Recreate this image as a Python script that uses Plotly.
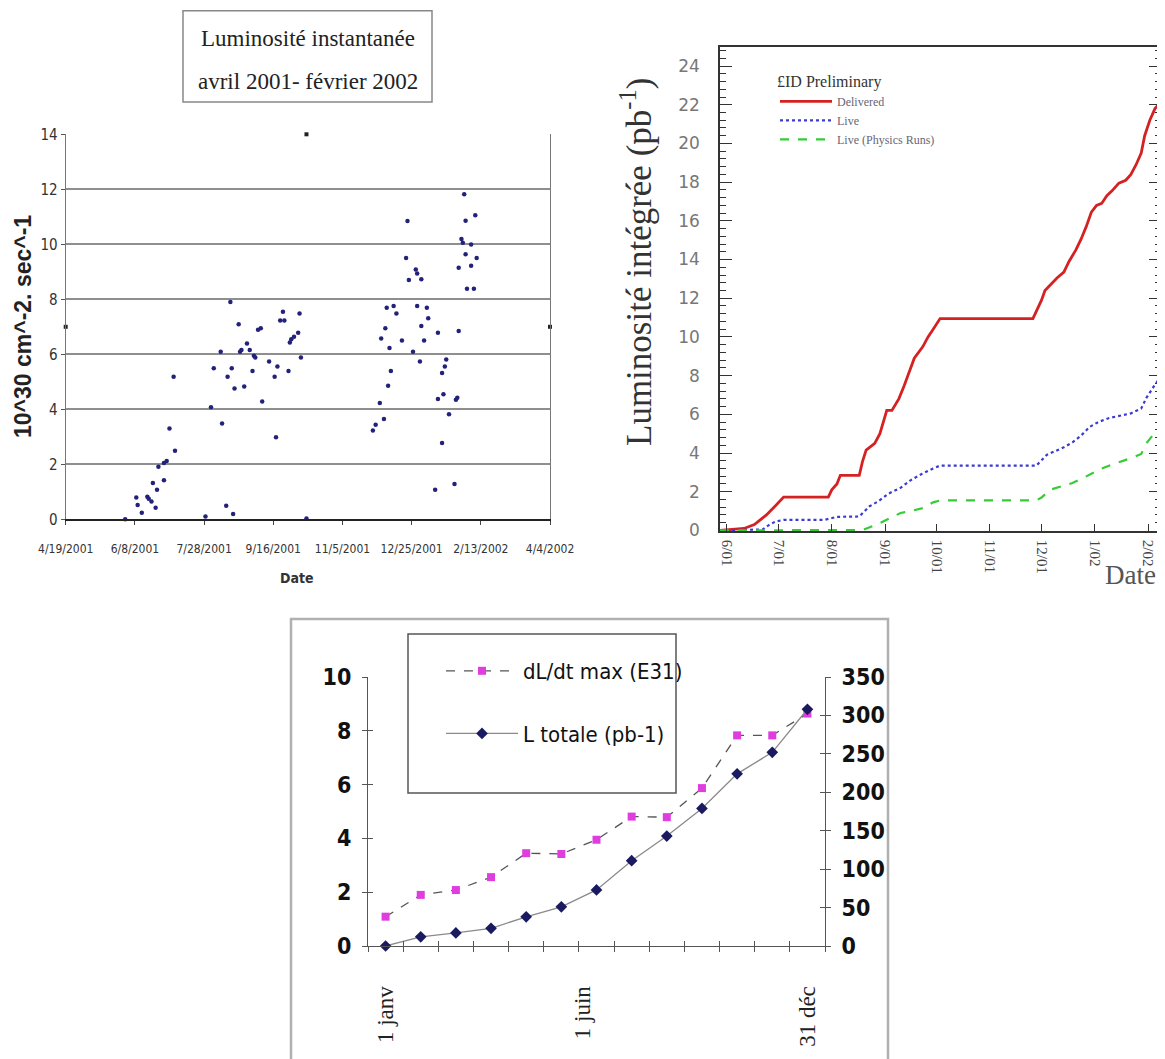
import plotly.graph_objects as go

# page body adds an 8px margin: the figure is drawn 8px in from the window corner
OFF = 8
W, H = 1165 - OFF, 1059 - OFF

# ---------------- Chart 1 data: instantaneous luminosity ----------------
inst_dates = [
    "2001-06-01", "2001-06-09", "2001-06-10", "2001-06-13", "2001-06-17", "2001-06-18",
    "2001-06-20", "2001-06-21", "2001-06-23", "2001-06-24", "2001-06-25", "2001-06-29",
    "2001-06-29", "2001-07-01", "2001-07-03", "2001-07-06", "2001-07-07",
    "2001-07-29", "2001-08-02", "2001-08-04", "2001-08-09", "2001-08-10", "2001-08-13",
    "2001-08-14", "2001-08-16", "2001-08-17", "2001-08-18", "2001-08-19", "2001-08-22",
    "2001-08-23", "2001-08-24", "2001-08-26", "2001-08-28", "2001-08-30", "2001-09-01",
    "2001-09-02", "2001-09-03", "2001-09-05", "2001-09-07", "2001-09-08", "2001-09-13",
    "2001-09-17", "2001-09-18", "2001-09-19", "2001-09-21", "2001-09-23", "2001-09-24",
    "2001-09-27", "2001-09-28", "2001-09-29", "2001-10-01", "2001-10-04", "2001-10-05",
    "2001-10-06", "2001-10-10",
    "2001-11-27", "2001-11-29", "2001-12-02", "2001-12-03", "2001-12-05", "2001-12-06",
    "2001-12-07", "2001-12-08", "2001-12-09", "2001-12-10", "2001-12-12", "2001-12-14",
    "2001-12-18", "2001-12-21", "2001-12-22", "2001-12-23", "2001-12-26", "2001-12-28",
    "2001-12-29", "2001-12-29", "2001-12-31", "2002-01-01", "2002-01-01", "2002-01-03",
    "2002-01-05", "2002-01-06", "2002-01-11", "2002-01-13", "2002-01-13", "2002-01-16",
    "2002-01-16", "2002-01-17", "2002-01-18", "2002-01-19", "2002-01-21", "2002-01-25",
    "2002-01-26", "2002-01-27", "2002-01-28", "2002-01-28", "2002-01-30", "2002-01-31",
    "2002-02-01", "2002-02-02", "2002-02-02", "2002-02-03", "2002-02-06", "2002-02-06",
    "2002-02-08", "2002-02-09", "2002-02-10",
]
inst_vals = [
    0.0, 0.79, 0.52, 0.24, 0.82, 0.75,
    0.65, 1.32, 0.42, 1.07, 1.91, 2.05,
    1.42, 2.12, 3.30, 5.18, 2.49,
    0.10, 4.07, 5.49, 6.09, 3.48, 0.49,
    5.18, 7.90, 5.49, 0.19, 4.76, 7.09,
    6.09, 6.16, 4.83, 6.39, 6.16, 5.39,
    5.95, 5.88, 6.89, 6.95, 4.28, 5.74,
    5.18, 2.98, 5.56, 7.23, 7.55, 7.23,
    5.39, 6.43, 6.55, 6.64, 6.78, 7.48,
    5.88, 0.03,
    3.23, 3.44, 4.23, 6.57, 3.65, 6.95,
    7.69, 4.86, 6.23, 5.39, 7.76, 7.48,
    6.50, 9.50, 10.85, 8.70, 6.09, 9.08,
    8.94, 7.76, 5.74, 8.73, 7.03, 6.50,
    7.69, 7.31, 1.07, 6.78, 4.37, 5.32,
    2.77, 4.55, 5.56, 5.81, 3.82, 1.28,
    4.35, 4.42, 6.85, 9.15, 10.19, 10.06,
    11.82, 9.64, 10.86, 8.38, 9.99, 9.22,
    8.38, 11.06, 9.50,
]
handle_dates = ["2001-04-19", "2002-04-04", "2001-10-10"]
handle_vals = [7, 7, 14]
c1_tickvals = ["2001-04-19", "2001-06-08", "2001-07-28", "2001-09-16",
               "2001-11-05", "2001-12-25", "2002-02-13", "2002-04-04"]
c1_ticktext = ["4/19/2001", "6/8/2001", "7/28/2001", "9/16/2001",
               "11/5/2001", "12/25/2001", "2/13/2002", "4/4/2002"]

# ---------------- Chart 2 data: integrated luminosity ----------------
deliv_dates = ["2001-05-28", "2001-06-11", "2001-06-17", "2001-06-24", "2001-06-29", "2001-07-04",
               "2001-07-30", "2001-08-01", "2001-08-04", "2001-08-06", "2001-08-17", "2001-08-19",
               "2001-08-21", "2001-08-26", "2001-08-29", "2001-08-31", "2001-09-02", "2001-09-05",
               "2001-09-09", "2001-09-12", "2001-09-15", "2001-09-18", "2001-09-23", "2001-09-26",
               "2001-09-29", "2001-10-03", "2001-11-26", "2001-11-28", "2001-12-01", "2001-12-03",
               "2001-12-07", "2001-12-10", "2001-12-14", "2001-12-17", "2001-12-21", "2001-12-24",
               "2001-12-27", "2001-12-30", "2002-01-02", "2002-01-05", "2002-01-08", "2002-01-11",
               "2002-01-15", "2002-01-19", "2002-01-22", "2002-01-25", "2002-01-28", "2002-01-30",
               "2002-02-02", "2002-02-05", "2002-02-08"]
deliv_vals = [0.0, 0.1, 0.3, 0.8, 1.25, 1.72,
              1.72, 2.1, 2.4, 2.85, 2.85, 3.6,
              4.15, 4.5, 5.0, 5.6, 6.2, 6.2,
              6.8, 7.45, 8.2, 8.9, 9.5, 10.0,
              10.4, 10.95, 10.95, 11.35, 11.9, 12.4,
              12.8, 13.05, 13.35, 13.9, 14.5, 15.05,
              15.7, 16.45, 16.8, 16.9, 17.3, 17.55,
              17.95, 18.1, 18.4, 18.9, 19.5, 20.4,
              21.2, 21.8, 22.1]
live_dates = ["2001-05-28", "2001-06-22", "2001-06-25", "2001-06-29", "2001-07-04", "2001-07-28",
              "2001-08-04", "2001-08-17", "2001-08-23", "2001-08-28", "2001-09-03", "2001-09-10",
              "2001-09-16", "2001-09-23", "2001-09-29", "2001-10-03", "2001-11-28", "2001-12-01",
              "2001-12-04", "2001-12-09", "2001-12-14", "2001-12-19", "2001-12-24", "2001-12-29",
              "2002-01-03", "2002-01-09", "2002-01-16", "2002-01-22", "2002-01-28", "2002-01-31",
              "2002-02-04", "2002-02-08"]
live_vals = [0.0, 0.05, 0.25, 0.45, 0.55, 0.55,
             0.7, 0.72, 1.25, 1.5, 1.9, 2.2,
             2.6, 2.95, 3.2, 3.35, 3.35, 3.6,
             3.9, 4.1, 4.3, 4.55, 4.9, 5.35,
             5.6, 5.8, 5.95, 6.05, 6.3, 6.85,
             7.4, 7.9]
phys_dates = ["2001-05-28", "2001-08-19", "2001-08-28", "2001-09-03", "2001-09-10", "2001-09-16",
              "2001-09-23", "2001-09-29", "2001-10-03", "2001-11-28", "2001-12-01", "2001-12-06",
              "2001-12-12", "2001-12-19", "2001-12-25", "2002-01-01", "2002-01-05", "2002-01-11",
              "2002-01-18", "2002-01-24", "2002-01-28", "2002-01-31", "2002-02-04", "2002-02-08"]
phys_vals = [0.0, 0.02, 0.33, 0.6, 0.9, 1.0,
             1.15, 1.45, 1.55, 1.55, 1.7, 2.1,
             2.25, 2.45, 2.7, 3.0, 3.2, 3.4,
             3.6, 3.8, 3.95, 4.5, 4.95, 5.4]
c2_tickvals = ["2001-06-01", "2001-07-01", "2001-08-01", "2001-09-01", "2001-10-01",
               "2001-11-01", "2001-12-01", "2002-01-01", "2002-02-01"]
c2_ticktext = ["6/01", "7/01", "8/01", "9/01", "10/01", "11/01", "12/01", "1/02", "2/02"]

# ---------------- Chart 3 data: projection ----------------
c3_categories = [1, 2, 3, 4, 5, 6, 7, 8, 9, 10, 11, 12, 13]
dldt_vals = [1.09, 1.90, 2.08, 2.56, 3.45, 3.42, 3.95, 4.81, 4.79, 5.87, 7.83, 7.83, 8.64]
ltot_vals = [0, 12, 17, 23, 38, 51, 73, 111, 143, 179, 224, 252, 308]
c3_label_pos = [1, 6.6, 13]
c3_label_text = ["1 janv", "1 juin", "31 déc"]


def fx(p):
    return (p - OFF) / W


def fy(p):
    return 1 - (p - OFF) / H


NARROW = "Liberation Sans Narrow, DejaVu Sans Condensed, Arial Narrow, Liberation Sans, sans-serif"
SERIF = "Liberation Serif, Times New Roman, serif"
SANS = "Liberation Sans, Arial, sans-serif"

fig = go.Figure()

# Chart 1
fig.add_trace(go.Scatter(x=inst_dates, y=inst_vals, mode="markers", xaxis="x", yaxis="y",
                         marker=dict(size=4.5, color="#22227a", symbol="circle"),
                         showlegend=False, cliponaxis=False, hoverinfo="skip"))
fig.add_trace(go.Scatter(x=handle_dates, y=handle_vals, mode="markers", xaxis="x", yaxis="y",
                         marker=dict(size=4, color="#222222", symbol="square"),
                         showlegend=False, cliponaxis=False, hoverinfo="skip"))

# Chart 2
fig.add_trace(go.Scatter(x=deliv_dates, y=deliv_vals, mode="lines", name="Delivered",
                         xaxis="x2", yaxis="y2", legend="legend",
                         line=dict(color="#d42222", width=2.8)))
fig.add_trace(go.Scatter(x=live_dates, y=live_vals, mode="lines", name="Live",
                         xaxis="x2", yaxis="y2", legend="legend",
                         line=dict(color="#3b3bd0", width=2.2, dash="dot")))
fig.add_trace(go.Scatter(x=phys_dates, y=phys_vals, mode="lines", name="Live (Physics Runs)",
                         xaxis="x2", yaxis="y2", legend="legend",
                         line=dict(color="#35cc35", width=2.2, dash="dash")))

# Chart 3
fig.add_trace(go.Scatter(x=c3_categories, y=dldt_vals, mode="lines+markers", name="dL/dt max (E31)",
                         xaxis="x3", yaxis="y3", legend="legend2", legendgroup="a",
                         line=dict(color="#555555", width=1.3, dash="dash"),
                         marker=dict(symbol="square", size=8, color="#e03de0"),
                         cliponaxis=False))
fig.add_trace(go.Scatter(x=c3_categories, y=ltot_vals, mode="lines+markers", name="L totale (pb-1)",
                         xaxis="x3", yaxis="y4", legend="legend2", legendgroup="b",
                         line=dict(color="#8a8a8a", width=1.3),
                         marker=dict(symbol="diamond", size=9, color="#1a1a60"),
                         cliponaxis=False))
# empty helper traces so that the overlay axes (cross ticks) are drawn
for xa, ya in (("x4", "y3"), ("x3", "y5"), ("x3", "y6")):
    fig.add_trace(go.Scatter(x=[None], y=[None], xaxis=xa, yaxis=ya, showlegend=False,
                             hoverinfo="skip"))


def note(text, x, y, font, angle=0):
    return dict(text=text, x=fx(x), y=fy(y), xref="paper", yref="paper",
                xanchor="center", yanchor="middle", textangle=angle,
                showarrow=False, font=font)


layout = dict(
    width=W, height=H,
    margin=dict(l=0, r=0, t=0, b=0, autoexpand=False),
    paper_bgcolor="white", plot_bgcolor="rgba(0,0,0,0)",
    showlegend=True,
    # chart 1
    xaxis=dict(domain=[fx(65.7), fx(550)], anchor="y", type="date",
               range=["2001-04-19", "2002-04-04"], tickmode="array",
               tickvals=c1_tickvals, ticktext=c1_ticktext, tickangle=0,
               showline=True, linecolor="#222", linewidth=2,
               ticks="outside", ticklen=4, tickcolor="#444",
               showgrid=False, zeroline=False, ticklabelstandoff=13,
               tickfont=dict(family=NARROW, size=12, color="#333")),
    yaxis=dict(domain=[fy(519.3), fy(134.3)], anchor="x", range=[0, 14], dtick=2,
               showgrid=True, gridcolor="#8f8f8f", gridwidth=2,
               showline=True, linecolor="#777", linewidth=1.2, mirror=True,
               ticks="outside", ticklen=4, tickcolor="#555", zeroline=False,
               tickfont=dict(family=NARROW, size=15, color="#333")),
    # chart 2
    xaxis2=dict(domain=[fx(720), fx(1161)], anchor="y2", type="date",
                range=["2001-05-28", "2002-02-08 12:00"], tickmode="array",
                tickvals=c2_tickvals, ticktext=c2_ticktext, tickangle=90,
                ticks="inside", ticklen=7, tickcolor="#333",
                showline=True, linecolor="#333", linewidth=1.5, mirror=True,
                showgrid=False, zeroline=False, ticklabelstandoff=4,
                tickfont=dict(family=SERIF, size=15, color="#444")),
    yaxis2=dict(domain=[fy(531), fy(46.7)], anchor="x2", range=[-0.03, 25],
                tick0=0, dtick=2, ticks="inside", ticklen=12, tickcolor="#333",
                showline=True, linecolor="#333", linewidth=1.5, mirror="ticks",
                minor=dict(dtick=0.4, tick0=0, ticks="inside", ticklen=6, tickcolor="#333"),
                showgrid=False, zeroline=False, ticklabelstandoff=15,
                tickfont=dict(family="DejaVu Sans", size=17, color="#777")),
    # chart 3
    xaxis3=dict(domain=[fx(368), fx(825)], anchor="y3", range=[0.5, 13.5],
                tickmode="array", tickvals=c3_label_pos, ticktext=c3_label_text,
                tickangle=-90, ticks="", showline=True, linecolor="#555", linewidth=1,
                minor=dict(tick0=0.5, dtick=1, ticks="outside", ticklen=5, tickcolor="#555"),
                showgrid=False, zeroline=False, ticklabelstandoff=30,
                tickfont=dict(family=SERIF, size=23, color="#222")),
    xaxis4=dict(overlaying="x3", anchor="y3", range=[0.5, 13.5], tick0=0.5, dtick=1,
                ticks="inside", ticklen=5, tickcolor="#555", showticklabels=False,
                showline=False, showgrid=False, zeroline=False),
    yaxis3=dict(domain=[fy(946), fy(677)], anchor="x3", range=[0, 10], dtick=2,
                ticks="outside", ticklen=5, tickcolor="#555",
                showline=True, linecolor="#555", linewidth=1,
                showgrid=False, zeroline=False, ticklabelstandoff=6,
                tickfont=dict(family=NARROW, size=23, color="#111", weight="bold")),
    yaxis4=dict(overlaying="y3", anchor="x3", side="right", range=[0, 350], dtick=50,
                ticks="outside", ticklen=5, tickcolor="#555",
                showline=True, linecolor="#555", linewidth=1,
                showgrid=False, zeroline=False, ticklabelstandoff=6,
                tickfont=dict(family=NARROW, size=23, color="#111", weight="bold")),
    yaxis5=dict(overlaying="y3", anchor="x3", range=[0, 10], dtick=2,
                ticks="inside", ticklen=5, tickcolor="#555", showticklabels=False,
                showline=False, showgrid=False, zeroline=False),
    yaxis6=dict(overlaying="y3", anchor="x3", side="right", range=[0, 350], dtick=50,
                ticks="inside", ticklen=5, tickcolor="#555", showticklabels=False,
                showline=False, showgrid=False, zeroline=False),
    legend=dict(x=fx(775), y=fy(66), xanchor="left", yanchor="top",
                bgcolor="rgba(0,0,0,0)", borderwidth=0, itemwidth=52,
                font=dict(family=SERIF, size=12, color="#667"),
                title=dict(text="£ID Preliminary", font=dict(family=SERIF, size=16, color="#333"))),
    legend2=dict(x=fx(441), y=fy(650), xanchor="left", yanchor="top",
                 bgcolor="rgba(0,0,0,0)", borderwidth=0, itemwidth=72, tracegroupgap=31,
                 font=dict(family=NARROW, size=22, color="#111")),
    shapes=[
        dict(type="rect", xref="paper", yref="paper", x0=fx(183), x1=fx(432),
             y0=fy(102), y1=fy(10.7), line=dict(color="#888", width=1.5)),
        dict(type="rect", xref="paper", yref="paper", x0=fx(291), x1=fx(888),
             y0=fy(1075), y1=fy(619), line=dict(color="#b0b0b0", width=2.5)),
        dict(type="rect", xref="paper", yref="paper", x0=fx(408), x1=fx(676),
             y0=fy(793), y1=fy(634), line=dict(color="#555", width=1.5)),
    ],
    annotations=[
        note("Luminosité instantanée", 308, 39, dict(family=SERIF, size=23, color="#222")),
        note("avril 2001- février 2002", 308, 81, dict(family=SERIF, size=23, color="#222")),
        note("10^30 cm^-2. sec^-1", 23, 327,
             dict(family=SANS, size=23, color="#222", weight="bold"), angle=-90),
        note("Date", 297, 578, dict(family=NARROW, size=14, color="#333", weight="bold")),
        note("Luminosité intégrée (pb<sup>-1</sup>)", 636, 262,
             dict(family=SERIF, size=35, color="#333"), angle=-90),
        note("Date", 1130, 575, dict(family=SERIF, size=27, color="#555")),
    ],
)
fig.update_layout(**layout)
fig.write_html("out.html")
